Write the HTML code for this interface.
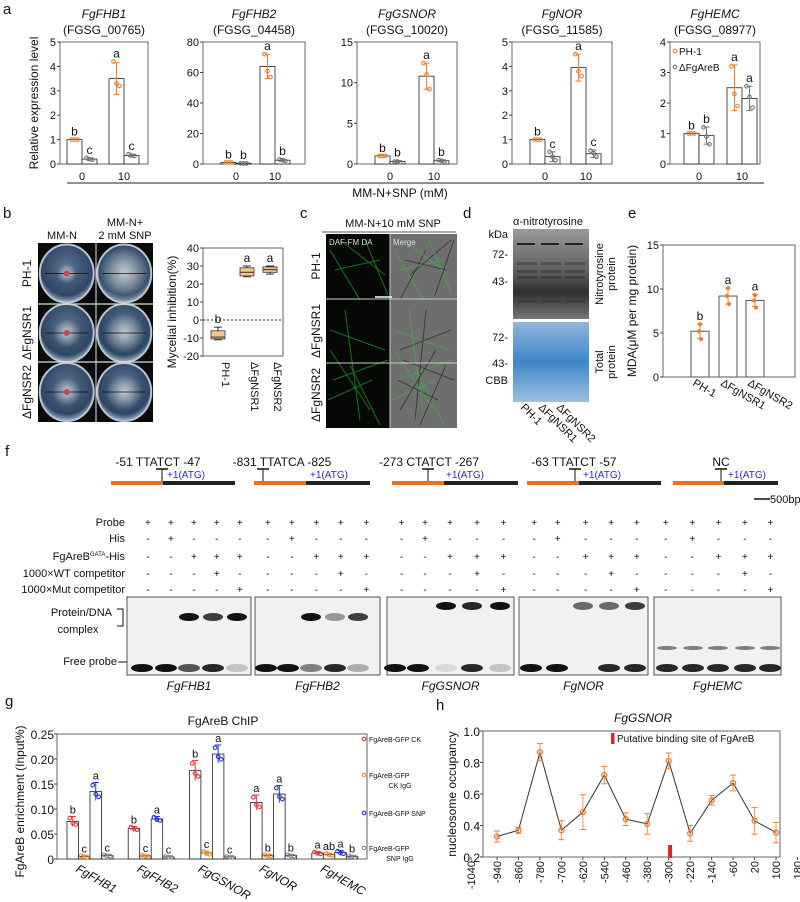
<!DOCTYPE html>
<html><head><meta charset="utf-8">
<style>
html,body{margin:0;padding:0;background:#fff;}
svg{display:block;font-family:"Liberation Sans",sans-serif;}
text{fill:#111;}
.it{font-style:italic;}
</style></head>
<body>
<svg id="fig" width="800" height="902" viewBox="0 0 800 902" xmlns="http://www.w3.org/2000/svg">
<defs>
<radialGradient id="plate" cx="50%" cy="40%" r="60%"><stop offset="0" stop-color="#5a7592"/><stop offset="0.8" stop-color="#2e4563"/><stop offset="1" stop-color="#9fb2c6"/></radialGradient>
<radialGradient id="myc" cx="50%" cy="50%" r="50%"><stop offset="0" stop-color="#dcdcdc"/><stop offset="1" stop-color="#dcdcdc" stop-opacity="0"/></radialGradient>
<linearGradient id="blot" x1="0" y1="0" x2="0" y2="1"><stop offset="0" stop-color="#9a9a9a"/><stop offset="0.5" stop-color="#5a5a5a"/><stop offset="0.7" stop-color="#2e2e2e"/><stop offset="1" stop-color="#777"/></linearGradient>
<linearGradient id="cbb" x1="0" y1="0" x2="0" y2="1"><stop offset="0" stop-color="#8fb6dc"/><stop offset="0.5" stop-color="#3f86c8"/><stop offset="1" stop-color="#9cc1e2"/></linearGradient>
</defs>
<g font-size="15">
<text x="3" y="14">a</text>
<text x="3" y="218">b</text>
<text x="300" y="218">c</text>
<text x="463" y="218">d</text>
<text x="628" y="218">e</text>
<text x="5" y="456">f</text>
<text x="5" y="706">g</text>
<text x="436" y="710">h</text>
</g>
<g id="pa"></g>
<g id="pb"></g>
<g id="pc"></g>
<g id="pd"></g>
<g id="pe"></g>
<g id="pf"></g>
<g id="pg"></g>
<g id="ph"></g>
</svg>
<script>
// ---------- Panel a data ----------
const aGenes = ["FgFHB1","FgFHB2","FgGSNOR","FgNOR","FgHEMC"];
const aIds = ["(FGSG_00765)","(FGSG_04458)","(FGSG_10020)","(FGSG_11585)","(FGSG_08977)"];
const aMax = [5,80,15,5,4];
const aTicks = [[0,1,2,3,4,5],[0,20,40,60,80],[0,5,10,15],[0,1,2,3,4,5],[0,1,2,3,4]];
const aDoses = ["0","10"];
const aPH1Mean = [[1,3.5],[1,64],[1,10.8],[1,3.95],[1,2.5]];
const aDAMean = [[0.2,0.35],[0.5,2.5],[0.3,0.4],[0.3,0.42],[0.93,2.15]];
const aPH1Err = [[0,0.65],[0,8],[0,1.6],[0,0.55],[0,0.75]];
const aDAErr = [[0.05,0.06],[0.2,0.8],[0.1,0.1],[0.2,0.15],[0.28,0.4]];
const aPH1Pts = [[[1,1,1],[4.2,3.3,3.2]],[[1,1,1],[72,61,57]],[[1,1,1],[12.4,11,9.2]],[[1,1,1],[4.5,3.8,3.6]],[[1,1,1],[3.2,2.3,1.9]]];
const aDAPts = [[[0.25,0.2,0.18],[0.4,0.35,0.33]],[[0.4,0.4,0.4],[3,2.5,2]],[[0.3,0.3,0.2],[0.5,0.4,0.3]],[[0.5,0.3,0.15],[0.55,0.45,0.3]],[[1.2,0.9,0.65],[2.55,2.2,1.85]]];
const aPH1Let = [["b","a"],["b","a"],["b","a"],["b","a"],["b","a"]];
const aDALet = [["c","c"],["b","b"],["b","b"],["c","c"],["b","a"]];
// ---------- Panel b data ----------
const bCats = ["PH-1","ΔFgNSR1","ΔFgNSR2"];
const bTicks = [-20,-10,0,10,20,30,40];
const bMin = [-11,24,25.5];
const bQ1 = [-10.5,24.5,26.5];
const bMed = [-9.5,26.5,28];
const bQ3 = [-6,29,29.5];
const bMax = [-4,30,30];
const bLet = ["b","a","a"];
// ---------- Panel e data ----------
const eCats = ["PH-1","ΔFgNSR1","ΔFgNSR2"];
const eTicks = [0,5,10,15];
const eMean = [5.2,9.2,8.7];
const eErr = [0.8,0.9,0.7];
const ePts = [[6,5.2,4.3],[10.1,9.2,8.3],[9.3,8.7,7.9]];
const eLet = ["b","a","a"];
// ---------- Panel f data ----------
const fSites = ["-51 TTATCT -47","-831 TTATCA -825","-273 CTATCT -267","-63 TTATCT -57","NC"];
const fRows = ["Probe","His","FgAreB","1000×WT competitor","1000×Mut competitor"];
const fSigns = [["+","+","+","+","+"],["-","+","-","-","-"],["-","-","+","+","+"],["-","-","-","+","-"],["-","-","-","-","+"]];
const fGelNames = ["FgFHB1","FgFHB2","FgGSNOR","FgNOR","FgHEMC"];
// ---------- Panel g data ----------
const gGenes = ["FgFHB1","FgFHB2","FgGSNOR","FgNOR","FgHEMC"];
const gTicks = [0,0.05,0.10,0.15,0.20,0.25];
const gSeries = ["FgAreB-GFP CK","FgAreB-GFP CK IgG","FgAreB-GFP SNP","FgAreB-GFP SNP IgG"];
const gCK = [0.075,0.061,0.177,0.113,0.012];
const gCKIgG = [0.005,0.006,0.012,0.007,0.009];
const gSNP = [0.135,0.080,0.210,0.130,0.013];
const gSNPIgG = [0.007,0.004,0.004,0.007,0.005];
const gErr = [[0.01,0.002,0.018,0.002],[0.004,0.002,0.005,0.001],[0.02,0.004,0.018,0.001],[0.015,0.002,0.017,0.002],[0.003,0.003,0.004,0.002]];
const gLet = [["b","c","a","c"],["b","c","a","c"],["b","c","a","c"],["a","b","a","b"],["a","ab","a","b"]];
// ---------- Panel h data ----------
const hPos = [-940,-860,-780,-700,-620,-540,-460,-380,-300,-220,-140,-60,20,100];
const hOcc = [0.33,0.37,0.865,0.37,0.485,0.72,0.44,0.41,0.81,0.35,0.56,0.67,0.43,0.355];
const hErr = [0.035,0.02,0.055,0.06,0.11,0.055,0.04,0.065,0.05,0.05,0.03,0.05,0.085,0.065];
const hTickLabels = [-1040,-940,-860,-780,-700,-620,-540,-460,-380,-300,-220,-140,-60,20,100,180];
const hYTicks = [0.2,0.4,0.6,0.8,1.0];
const hSite = -295;

const NS="http://www.w3.org/2000/svg";
function mk(tag,attrs,parent,txt){const e=document.createElementNS(NS,tag);for(const k in attrs)e.setAttribute(k,attrs[k]);if(txt!==undefined)e.textContent=txt;parent.appendChild(e);return e;}
const ORG="#f07d28", GRY="#777";

// ===== Panel a =====
(function(){
const P=document.getElementById('pa');
const geo=[{l:60,r:148,c:[82,124]},{l:203,r:305,c:[236,275]},{l:357,r:457,c:[390,434]},{l:512,r:612,c:[545,586]},{l:670,r:760,c:[699,742]}];
const top=42,bot=164,bw=15;
aGenes.forEach((g,i)=>{
 const G=geo[i];const y=v=>bot-(v/aMax[i])*(bot-top);
 let t=mk('text',{x:(G.l+G.r)/2,y:18,'text-anchor':'middle','font-size':12,class:'it'},P,g);
 
 
 t=mk('text',{x:(G.l+G.r)/2,y:34,'text-anchor':'middle','font-size':12},P,aIds[i]);
 
 
 const fr=mk('rect',{x:G.l,y:top,width:G.r-G.l,height:bot-top,fill:'none',stroke:'#444','stroke-width':0.8},P);
 
 
 aTicks[i].forEach(v=>{
  const tl=mk('text',{x:G.l-4,y:y(v)+4,'text-anchor':'end','font-size':11},P,v);
  
  
  mk('line',{x1:G.l-3,x2:G.l,y1:y(v),y2:y(v),stroke:'#444'},P);
 });
 [0,1].forEach(d=>{
  const cx=G.c[d];
  const xl=mk('text',{x:cx,y:180,'text-anchor':'middle','font-size':11},P,aDoses[d]);
  
  
  [[aPH1Mean,aPH1Err,aPH1Pts,aPH1Let,ORG,cx-bw],[aDAMean,aDAErr,aDAPts,aDALet,GRY,cx]].forEach((s,k)=>{
   const m=s[0][i][d],e=s[1][i][d],pts=s[2][i][d],L=s[3][i][d],col=s[4],x0=s[5];
   const b=mk('rect',{x:x0,y:y(m),width:bw,height:bot-y(m),fill:'#fff',stroke:'#222','stroke-width':0.8},P);
   
   
   const xm=x0+bw/2;
   if(e>0){mk('line',{x1:xm,x2:xm,y1:y(m+e),y2:y(m-e),stroke:col},P);mk('line',{x1:xm-3,x2:xm+3,y1:y(m+e),y2:y(m+e),stroke:col},P);mk('line',{x1:xm-3,x2:xm+3,y1:y(m-e),y2:y(m-e),stroke:col},P);}
   pts.forEach((p,j)=>{const c=mk('circle',{cx:xm-3+j*3,cy:y(p),r:1.8,fill:'none',stroke:col,'stroke-width':1.1},P);
    
    });
   const lt=mk('text',{x:xm,y:y(Math.max(m+e,Math.max(...pts)))-4,'text-anchor':'middle','font-size':12},P,L);
   
   
  });
 });
});
let yl=mk('text',{x:0,y:0,transform:'translate(38,103) rotate(-90)','text-anchor':'middle','font-size':12},P,'Relative expression level');


mk('line',{x1:67,x2:764,y1:183,y2:183,stroke:'#222'},P);
yl=mk('text',{x:400,y:197,'text-anchor':'middle','font-size':12},P,'MM-N+SNP (mM)');


const lg=mk('g',{},P);


mk('circle',{cx:675,cy:51,r:1.8,fill:'none',stroke:ORG,'stroke-width':1.1},lg);
mk('text',{x:679,y:55,'font-size':10},lg,'PH-1');
mk('circle',{cx:675,cy:67,r:1.8,fill:'none',stroke:GRY,'stroke-width':1.1},lg);
mk('text',{x:679,y:71,'font-size':10},lg,'ΔFgAreB');
})();

// ===== Panel b =====
(function(){
const P=document.getElementById('pb');
mk('text',{x:62,y:239,'text-anchor':'middle','font-size':11},P,'MM-N');
mk('text',{x:125,y:226,'text-anchor':'middle','font-size':11},P,'MM-N+');
mk('text',{x:125,y:239,'text-anchor':'middle','font-size':11},P,'2 mM SNP');
mk('rect',{x:38,y:243,width:115,height:179,fill:'#0a0a0a'},P);
const rows=[243,304,362,422];
bCats.forEach((c,r)=>{
 const t=mk('text',{x:0,y:0,transform:`translate(31,${(rows[r]+rows[r+1])/2}) rotate(-90)`,'text-anchor':'middle','font-size':12},P,c);
 
 
 [0,1].forEach(k=>{
  const cx=38+28.75+k*57.5, cy=(rows[r]+rows[r+1])/2;
  const pl=mk('ellipse',{cx:cx,cy:cy,rx:27,ry:29,fill:'url(#plate)',stroke:'#b8c4d0','stroke-width':2},P);
  
  
  const sz=[[10,26],[14,20],[14,18]][r][k];
  mk('ellipse',{cx:cx,cy:cy,rx:sz,ry:sz,fill:'url(#myc)',opacity:0.8},P);
  mk('line',{x1:cx-22,x2:cx+22,y1:cy,y2:cy,stroke:'#111','stroke-width':0.8},P);
  if(k==0)mk('circle',{cx:cx,cy:cy,r:3,fill:'#c0485a'},P);
 });
 if(r>0)mk('line',{x1:38,x2:153,y1:rows[r],y2:rows[r],stroke:'#ddd','stroke-width':1.2},P);
});
mk('line',{x1:96,x2:96,y1:243,y2:422,stroke:'#ddd','stroke-width':1},P);
const L=203,R=283,T=248,B=356;const y=v=>B-(v+20)/60*(B-T);
const xs=[218,247,270];
const fr=mk('rect',{x:L,y:T,width:R-L,height:B-T,fill:'none',stroke:'#666'},P);


bTicks.forEach(v=>{const t=mk('text',{x:L-4,y:y(v)+4,'text-anchor':'end','font-size':11},P,v);
 
 
 mk('line',{x1:L-3,x2:L,y1:y(v),y2:y(v),stroke:'#444'},P);});
mk('line',{x1:L,x2:R,y1:y(0),y2:y(0),stroke:'#333','stroke-dasharray':'2,2'},P);
bCats.forEach((c,i)=>{
 const x=xs[i];
 mk('line',{x1:x,x2:x,y1:y(bMax[i]),y2:y(bMin[i]),stroke:'#333'},P);
 mk('line',{x1:x-4,x2:x+4,y1:y(bMax[i]),y2:y(bMax[i]),stroke:'#333'},P);
 mk('line',{x1:x-4,x2:x+4,y1:y(bMin[i]),y2:y(bMin[i]),stroke:'#333'},P);
 const bx=mk('rect',{x:x-7,y:y(bQ3[i]),width:14,height:y(bQ1[i])-y(bQ3[i]),fill:'#f7c48a',stroke:'#333','stroke-width':0.8},P);
 
 
 mk('line',{x1:x-7,x2:x+7,y1:y(bMed[i]),y2:y(bMed[i]),stroke:'#333'},P);
 const lt=mk('text',{x:x,y:y(bMax[i])-4,'text-anchor':'middle','font-size':12},P,bLet[i]);
 
 
 const xl=mk('text',{x:0,y:0,transform:`translate(${x+4},${B+6}) rotate(90)`,'font-size':11},P,c);
 
 
});
const yt=mk('text',{x:0,y:0,transform:`translate(176,${(T+B)/2+10}) rotate(-90)`,'text-anchor':'middle','font-size':12},P,'Mycelial inhibition(%)');


})();

// ===== Panel c =====
(function(){
const P=document.getElementById('pc');
mk('text',{x:393,y:227,'text-anchor':'middle','font-size':11},P,'MM-N+10 mM SNP');
mk('line',{x1:322,x2:456,y1:232,y2:232,stroke:'#aaa','stroke-width':2},P);
mk('rect',{x:326,y:234,width:64,height:194,fill:'#050805'},P);
mk('rect',{x:390,y:234,width:67,height:194,fill:'#6e6e6e'},P);
const seg=[[330,250,360,300],[340,240,385,275],[330,330,385,350],[345,310,360,420],[333,380,388,360],[350,365,380,425],[328,400,372,380],[365,240,388,295],[335,270,380,260],[330,350,370,410]];
seg.forEach((s,k)=>{
 mk('line',{x1:s[0],y1:s[1],x2:s[2],y2:s[3],stroke:'#1f8f1f','stroke-width':1,opacity:0.8},P);
 mk('line',{x1:s[0]+64,y1:s[1],x2:s[2]+64,y2:s[3],stroke:'#4aa84a','stroke-width':1,opacity:0.8},P);
 mk('line',{x1:s[0]+70,y1:s[3],x2:s[2]+66,y2:s[1],stroke:'#333','stroke-width':0.8},P);
});
mk('line',{x1:326,x2:457,y1:299,y2:299,stroke:'#ccc'},P);
mk('line',{x1:326,x2:457,y1:363,y2:363,stroke:'#ccc'},P);
mk('line',{x1:390,x2:390,y1:234,y2:428,stroke:'#ccc'},P);
mk('line',{x1:375,x2:392,y1:297,y2:297,stroke:'#fff','stroke-width':1.5},P);
mk('text',{x:329,y:245,'font-size':8,style:'fill:#ddd'},P,'DAF-FM DA');
mk('text',{x:393,y:245,'font-size':8,style:'fill:#ddd'},P,'Merge');
[["PH-1",266],["ΔFgNSR1",331],["ΔFgNSR2",395]].forEach(r=>{
 const t=mk('text',{x:0,y:0,transform:`translate(320,${r[1]}) rotate(-90)`,'text-anchor':'middle','font-size':12},P,r[0]);
 
 
});
})();

// ===== Panel d =====
(function(){
const P=document.getElementById('pd');
mk('text',{x:548,y:225,'text-anchor':'middle','font-size':11},P,'α-nitrotyrosine');
const b1=mk('rect',{x:513,y:229,width:76,height:90,fill:'url(#blot)'},P);


[0,1,2].forEach(k=>{const x=517+k*24;mk('rect',{x:x,y:243,width:18,height:2,fill:'#222'},P);
 [262,270,276,292,300].forEach(yy=>mk('rect',{x:x,y:yy,width:20,height:3,fill:'#333',opacity:0.5},P));});
const b2=mk('rect',{x:513,y:322,width:76,height:80,fill:'url(#cbb)'},P);


[[498,238,'kDa'],[508,258,'72-'],[508,285,'43-'],[508,341,'72-'],[508,367,'43-'],[508,384,'CBB']].forEach(a=>mk('text',{x:a[0]+(a[2]=='kDa'?10:0),y:a[1],'text-anchor':'end','font-size':11},P,a[2]));
mk('text',{x:0,y:0,transform:'translate(603,274) rotate(-90)','text-anchor':'middle','font-size':11},P,'Nitrotyrosine');
mk('text',{x:0,y:0,transform:'translate(615,274) rotate(-90)','text-anchor':'middle','font-size':11},P,'protein');
mk('text',{x:0,y:0,transform:'translate(603,362) rotate(-90)','text-anchor':'middle','font-size':11},P,'Total');
mk('text',{x:0,y:0,transform:'translate(615,362) rotate(-90)','text-anchor':'middle','font-size':11},P,'protein');
["PH-1","ΔFgNSR1","ΔFgNSR2"].forEach((c,k)=>{
 const t=mk('text',{x:0,y:0,transform:`translate(${520+k*18},408) rotate(45)`,'font-size':11},P,c);
 
 
});
})();

// ===== Panel e =====
(function(){
const P=document.getElementById('pe');
const L=663,R=795,T=245,B=377;const y=v=>B-v/15*(B-T);
const xs=[700,728,755];
const fr=mk('rect',{x:L,y:T,width:R-L,height:B-T,fill:'none',stroke:'#666'},P);


eTicks.forEach(v=>{const t=mk('text',{x:L-4,y:y(v)+4,'text-anchor':'end','font-size':11},P,v);
 
 
 mk('line',{x1:L-3,x2:L,y1:y(v),y2:y(v),stroke:'#444'},P);});
eCats.forEach((c,i)=>{
 const x=xs[i];
 const b=mk('rect',{x:x-9,y:y(eMean[i]),width:18,height:B-y(eMean[i]),fill:'#fff',stroke:'#555'},P);
 
 
 const t1=y(eMean[i]+eErr[i]),t2=y(eMean[i]-eErr[i]);
 mk('line',{x1:x,x2:x,y1:t1,y2:t2,stroke:ORG},P);mk('line',{x1:x-3,x2:x+3,y1:t1,y2:t1,stroke:ORG},P);mk('line',{x1:x-3,x2:x+3,y1:t2,y2:t2,stroke:ORG},P);
 ePts[i].forEach((p,j)=>{const c2=mk('circle',{cx:x+[0,-1,1][j],cy:y(p),r:2,fill:ORG},P);
  
  });
 const lt=mk('text',{x:x,y:t1-4,'text-anchor':'middle','font-size':12},P,eLet[i]);
 
 
 const xl=mk('text',{x:0,y:0,transform:`translate(${x-8},${B+8}) rotate(30)`,'font-size':11},P,c);
 
 
});
const yt=mk('text',{x:0,y:0,transform:`translate(636,${(T+B)/2}) rotate(-90)`,'text-anchor':'middle','font-size':12},P,'MDA(μM per mg protein)');


})();

// ===== Panel f =====
(function(){
const P=document.getElementById('pf');
const dg=[{o:[111,163],b:[163,235],tc:158,t:162,a:186},{o:[254,306],b:[306,370],tc:282,t:263,a:329},{o:[392,444],b:[444,518],tc:429,t:428,a:465},{o:[527,579],b:[579,661],tc:574,t:575,a:602},{o:[673,724],b:[724,778],tc:721,t:721,a:747}];
dg.forEach((d,i)=>{
 const t=mk('text',{x:d.tc,y:466,'text-anchor':'middle','font-size':12},P,fSites[i]);
 
 
 mk('rect',{x:d.o[0],y:481,width:d.o[1]-d.o[0],height:4,fill:'#e8731c'},P);
 mk('rect',{x:d.b[0],y:481,width:d.b[1]-d.b[0],height:4,fill:'#222'},P);
 mk('line',{x1:d.t-6,x2:d.t+6,y1:469,y2:469,stroke:'#111','stroke-width':1.5},P);
 mk('line',{x1:d.t,x2:d.t,y1:469,y2:481,stroke:'#111','stroke-width':1},P);
 mk('text',{x:d.a,y:478,'text-anchor':'middle','font-size':10,style:'fill:#2a2ad0'},P,'+1(ATG)');
});
mk('line',{x1:754,x2:770,y1:499,y2:499,stroke:'#111','stroke-width':1.5},P);
mk('text',{x:770,y:503,'font-size':11},P,'500bp');
const cols=[290,335,380,425,470,525,572,620,668,718,787,833,882,935,987,1047,1093,1148,1198,1248,1305,1357,1408,1460,1510].map(v=>v/1.96);
const ry=[523,539,557,574,590];
fRows.forEach((r,k)=>{
 const t=mk('text',{x:125,y:ry[k]+3,'text-anchor':'end','font-size':11},P,r);
 
 
 if(k==2){t.textContent='FgAreB';mk('tspan',{'font-size':6,dy:-4},t,'GATA');mk('tspan',{dy:4},t,'-His');}
 cols.forEach((c,j)=>{mk('text',{x:c,y:ry[k]+3,'text-anchor':'middle','font-size':10},P,fSigns[k][j%5]);});
});
const gels=[[127,251],[255,380],[387,514],[519,648],[654,781]];
const cx=[[142,166,189,213,237],[266,288,311,335,358],[395,418,446,472,500],[531,557,583,609,635],[667,693,718,745,770]];
const comp=[[0,0,1,.8,1],[0,0,1,.4,.8],[0,0,1,.9,1],[0,0,.6,.6,.8],[0,0,0,0,0]];
const free=[[1,1,.7,.9,.2],[1,1,.5,.9,.3],[1,1,.1,.9,.2],[1,1,0,.9,.9],[.9,.9,.9,.9,.9]];
gels.forEach((g,i)=>{
 const r=mk('rect',{x:g[0],y:597,width:g[1]-g[0],height:78,fill:'#f1f1f1',stroke:'#555'},P);
 
 
 cx[i].forEach((x,j)=>{
  if(comp[i][j]>0)mk('ellipse',{cx:x,cy:i==2||i==3?606:617,rx:10,ry:4,fill:'#111',opacity:comp[i][j]},P);
  mk('ellipse',{cx:x,cy:668,rx:11,ry:4,fill:'#111',opacity:free[i][j]},P);
  if(i==4)mk('ellipse',{cx:x,cy:648,rx:10,ry:2,fill:'#333',opacity:.6},P);
 });
 const t=mk('text',{x:(g[0]+g[1])/2,y:690,'text-anchor':'middle','font-size':12,class:'it'},P,fGelNames[i]);
 
 
});
mk('text',{x:112,y:616,'text-anchor':'end','font-size':11},P,'Protein/DNA');
mk('text',{x:78,y:633,'text-anchor':'middle','font-size':11},P,'complex');
mk('path',{d:'M117,609 H123 V626 H117',fill:'none',stroke:'#111'},P);
mk('text',{x:117,y:665,'text-anchor':'end','font-size':11},P,'Free probe');
mk('line',{x1:118,x2:127,y1:662,y2:662,stroke:'#111'},P);
})();

// ===== Panel g =====
(function(){
const P=document.getElementById('pg');
const L=57,R=367,T=734,B=859;const y=v=>B-v/0.25*(B-T);
const cols=['#e8343a','#f08a2a','#2233dd','#888'];
const series=[gCK,gCKIgG,gSNP,gSNPIgG];
mk('text',{x:223,y:725,'text-anchor':'middle','font-size':12},P,'FgAreB ChIP');
mk('path',{d:`M${L},${T} H${R} V${B} H${L} Z`,fill:'none',stroke:'#666'},P);
gTicks.forEach(v=>{const t=mk('text',{x:L-3,y:y(v)+5,'text-anchor':'end','font-size':12},P,v==0?'0':v.toFixed(2));
 
 
 mk('line',{x1:L-3,x2:L,y1:y(v),y2:y(v),stroke:'#444'},P);});
const bw=11.5;
gGenes.forEach((g,i)=>{
 const x0=67+i*61.2;
 series.forEach((s,k)=>{
  const x=x0+k*bw, m=s[i], e=gErr[i][k];
  const b=mk('rect',{x:x,y:y(m),width:bw,height:B-y(m),fill:'#fff',stroke:'#222','stroke-width':0.8},P);
  
  
  const xm=x+bw/2;
  mk('line',{x1:xm,x2:xm,y1:y(m+e),y2:y(Math.max(0,m-e)),stroke:cols[k]},P);
  mk('line',{x1:xm-3,x2:xm+3,y1:y(m+e),y2:y(m+e),stroke:cols[k]},P);
  [-3,0,3].forEach((d,j)=>{const c=mk('circle',{cx:xm+d,cy:y(m+[e*0.7,-e*0.3,-e*0.6][j]),r:1.8,fill:'none',stroke:cols[k],'stroke-width':1.1},P);
   
   });
  const lt=mk('text',{x:xm,y:y(m+e)-3,'text-anchor':'middle','font-size':11},P,gLet[i][k]);
  
  
 });
 const xl=mk('text',{x:0,y:0,transform:`translate(${x0+8},${B+12}) rotate(30)`,'font-size':12,class:'it'},P,g);
 
 
});
const yt=mk('text',{x:0,y:0,transform:`translate(24,${(T+B)/2+5}) rotate(-90)`,'text-anchor':'middle','font-size':12},P,'FgAreB enrichment (Input%)');


const ly=[739,775,813,848];
gSeries.forEach((s,k)=>{
 const lg=mk('g',{},P);
 
 
 mk('circle',{cx:364,cy:ly[k],r:1.8,fill:'none',stroke:cols[k],'stroke-width':1.1},lg);
 if(k==0||k==2)mk('text',{x:369,y:ly[k]+3,'font-size':7},lg,s);
 else{mk('text',{x:369,y:ly[k]+3,'font-size':7},lg,'FgAreB-GFP');mk('text',{x:400,y:ly[k]+13,'text-anchor':'middle','font-size':7},lg,s.replace('FgAreB-GFP ',''));}
});
})();

// ===== Panel h =====
(function(){
const P=document.getElementById('ph');
const L=483,R=780,T=731,B=857;
const x=v=>497+(v+940)*0.2683, y=v=>B-(v-0.2)/0.8*(B-T);
mk('text',{x:643,y:722,'text-anchor':'middle','font-size':12,class:'it'},P,'FgGSNOR');
mk('rect',{x:L,y:T,width:R-L,height:B-T,fill:'none',stroke:'#666'},P);
hYTicks.forEach(v=>{const t=mk('text',{x:L-3,y:y(v)+5,'text-anchor':'end','font-size':12},P,v.toFixed(1));
 
 
 mk('line',{x1:L-3,x2:L,y1:y(v),y2:y(v),stroke:'#444'},P);});
hTickLabels.forEach(v=>{const xx=Math.max(L-12,x(v));
 const t=mk('text',{x:0,y:0,transform:`translate(${xx+4},${B+4}) rotate(-90)`,'text-anchor':'end','font-size':11},P,v);
 
 
 mk('line',{x1:xx,x2:xx,y1:B,y2:B+3,stroke:'#444'},P);});
const ln=mk('polyline',{points:hPos.map((p,i)=>x(p)+','+y(hOcc[i])).join(' '),fill:'none',stroke:'#333','stroke-width':1},P);


hPos.forEach((p,i)=>{
 const xx=x(p),t1=y(hOcc[i]+hErr[i]),t2=y(hOcc[i]-hErr[i]);
 mk('line',{x1:xx,x2:xx,y1:t1,y2:t2,stroke:ORG,opacity:.8},P);
 mk('line',{x1:xx-3,x2:xx+3,y1:t1,y2:t1,stroke:ORG},P);mk('line',{x1:xx-3,x2:xx+3,y1:t2,y2:t2,stroke:ORG},P);
 const c=mk('circle',{cx:xx,cy:y(hOcc[i]),r:2.5,fill:'none',stroke:ORG,'stroke-width':1.3},P);
 
 
});
const site=mk('rect',{x:x(hSite)-2,y:B-12,width:4,height:13,fill:'#e0202a'},P);


mk('rect',{x:611,y:733,width:3.5,height:11,fill:'#e0202a'},P);
mk('text',{x:617,y:742,'font-size':10},P,'Putative binding site of FgAreB');
const yt=mk('text',{x:0,y:0,transform:`translate(456,${(T+B)/2}) rotate(-90)`,'text-anchor':'middle','font-size':12},P,'nucleosome occupancy');


})();
</script>
</body></html>
